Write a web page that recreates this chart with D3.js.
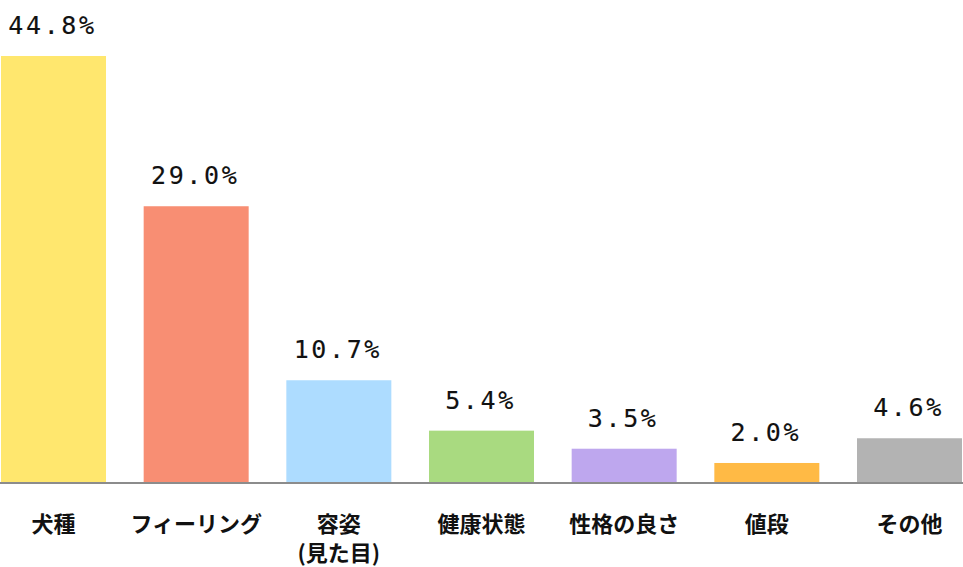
<!DOCTYPE html>
<html><head><meta charset="utf-8">
<script src="https://cdn.jsdelivr.net/npm/d3@7"></script>
<style>body{margin:0;background:#fff}svg{display:block}</style>
</head><body>
<script>
const categories = [["犬種"],["フィーリング"],["容姿","(見た目)"],["健康状態"],["性格の良さ"],["値段"],["その他"]];
const values = [44.8, 29.0, 10.7, 5.4, 3.5, 2.0, 4.6];
const valueLabels = ["44.8%","29.0%","10.7%","5.4%","3.5%","2.0%","4.6%"];
const colors = ["#FFE76E","#F88E73","#ADDCFF","#A9DA80","#BEA7EE","#FFBA45","#B3B3B3"];

const W = 963, H = 567;
const svg = d3.select("body").append("svg").attr("width", W).attr("height", H);
const x = d3.scaleBand().domain(d3.range(values.length)).range([1, 962]).paddingInner(0.264).paddingOuter(0);
const y = d3.scaleLinear().domain([0, 44.8]).range([482, 56]);

svg.selectAll("rect.bar").data(values).join("rect").attr("class","bar")
  .attr("x",(d,i)=>x(i)).attr("width",x.bandwidth())
  .attr("y",d=>y(d)).attr("height",d=>y(0)-y(d))
  .attr("fill",(d,i)=>colors[i]);

svg.append("line").attr("x1",0).attr("x2",W).attr("y1",483).attr("y2",483)
  .attr("stroke","#8c8c8c").attr("stroke-width",2);

svg.selectAll("text.val").data(values).join("text").attr("class","val")
  .attr("x",(d,i)=>x(i)+x.bandwidth()/2 - 1)
  .attr("y",d=>y(d)-22)
  .attr("text-anchor","middle")
  .attr("font-family","'DejaVu Sans Mono', monospace")
  .attr("font-size",25).attr("letter-spacing","2.6px")
  .attr("stroke","#111").attr("stroke-width",0.15)
  .attr("fill","#111")
  .text((d,i)=>valueLabels[i]);

const g = svg.selectAll("g.cat").data(categories).join("g").attr("class","cat");
g.each(function(lines,i){
  const t = d3.select(this).append("text")
    .attr("text-anchor","middle")
    .attr("font-family","'Noto Sans CJK JP', sans-serif")
    .attr("font-weight","bold").attr("font-size",22).attr("fill","#111");
  lines.forEach((l,j)=>{
    t.append("tspan").attr("x",x(i)+x.bandwidth()/2).attr("y",532+j*29).text(l);
  });
});
</script>
</body></html>
